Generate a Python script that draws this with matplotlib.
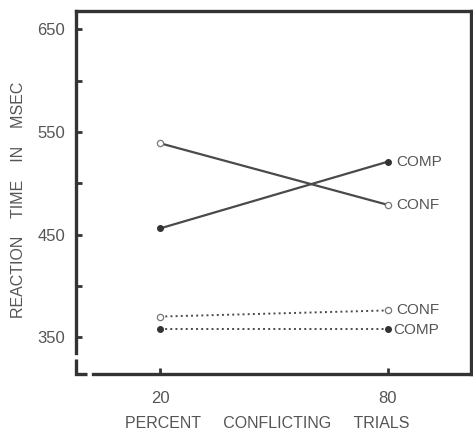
import matplotlib
matplotlib.use("Agg")
import matplotlib.pyplot as plt

plt.rcParams['font.family'] = ['Liberation Sans', 'DejaVu Sans']

# Data
percent = [20, 80]
solid_conf = [539, 479]
solid_comp = [456, 521]
dotted_conf = [370, 376]
dotted_comp = [358, 358]
yticks = [350, 450, 550, 650]
yminor = [400, 500, 600]
xticks = [20, 80]

line_col = '#4a4a4a'
text_col = '#555555'
spine_col = '#333333'

fig = plt.figure(figsize=(4.73, 4.32), dpi=100)
ax = fig.add_axes([76/473, 1-374/432, (471-76)/473, (374-11)/432])
ax.set_xlim(-2.2, 102)
ax.set_ylim(314, 668)

# Solid lines
ax.plot(percent, solid_conf, '-', color=line_col, lw=1.6, marker='o', ms=4.5,
        mfc='white', mec='#777777', mew=0.9, zorder=3)
ax.plot(percent, solid_comp, '-', color=line_col, lw=1.6, marker='o', ms=4,
        mfc='#333333', mec='#333333', zorder=3)
# Dotted lines
ax.plot(percent, dotted_conf, ':', color=line_col, lw=1.4, marker='o', ms=4.5,
        mfc='white', mec='#777777', mew=0.9, zorder=3)
ax.plot(percent, dotted_comp, ':', color=line_col, lw=1.4, marker='o', ms=4,
        mfc='#333333', mec='#333333', zorder=3)

# End labels
lab_kw = dict(color=text_col, fontsize=11, va='center', ha='left')
ax.text(82.3, solid_comp[1], 'COMP', **lab_kw)
ax.text(82.3, solid_conf[1], 'CONF', **lab_kw)
ax.text(82.3, dotted_conf[1], 'CONF', **lab_kw)
ax.text(81.6, dotted_comp[1] - 1, 'COMP', **lab_kw)

# Spines
for s in ax.spines.values():
    s.set_color(spine_col)
    s.set_linewidth(2.4)
ax.spines['left'].set_bounds(334, 668)
ax.spines['bottom'].set_bounds(2.4, 102)

# Small L at the broken corner
ax.plot([0, 0, 0.027], [0.04, 0, 0], transform=ax.transAxes, color=spine_col,
        lw=2.4, clip_on=False, solid_capstyle='butt', solid_joinstyle='miter')

ax.set_yticks(yticks)
ax.set_yticks(yminor, minor=True)
ax.set_xticks(xticks)
ax.tick_params(axis='y', which='both', direction='in', length=4, width=2,
               color=spine_col, labelcolor=text_col, labelsize=12, pad=8)
ax.tick_params(axis='x', direction='in', length=4, width=2, color=spine_col,
               labelcolor=text_col, labelsize=12, pad=12)

ax.set_ylabel('REACTION    TIME    IN    MSEC', color=text_col, fontsize=11.5)
ax.yaxis.set_label_coords(-0.127, 0.48)
ax.set_xlabel('PERCENT     CONFLICTING     TRIALS', color=text_col,
              fontsize=11.5)
ax.xaxis.set_label_coords(0.484, -0.116)

fig.savefig('out.png', dpi=100)
